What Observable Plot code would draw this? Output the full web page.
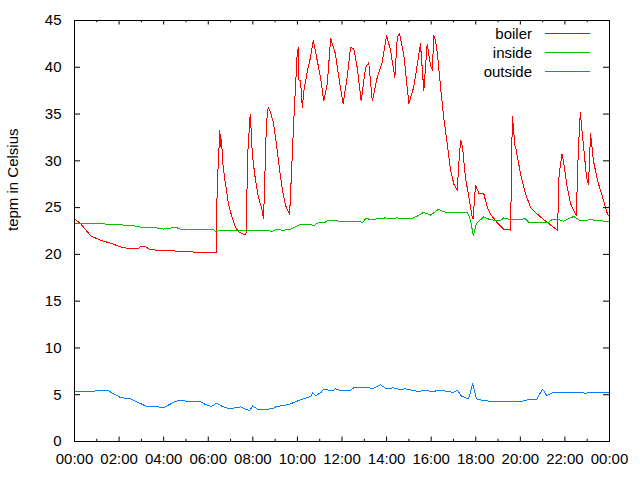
<!DOCTYPE html>
<html>
<head>
<meta charset="utf-8">
<script src="https://cdn.jsdelivr.net/npm/d3@7"></script>
<script src="https://cdn.jsdelivr.net/npm/@observablehq/plot@0.6"></script>
<style>
  html, body { margin: 0; padding: 0; background: #fff; }
</style>
</head>
<body>
<div id="chart"></div>
<script>
// ---- data (hours since 00:00, temperature in °C) ----
const boilerHours = [0, 0.27, 0.72, 1.17, 1.62, 2.06, 2.51, 2.83, 2.96, 3.19, 3.41, 4.08, 5.2, 5.43, 6.36, 6.38, 6.42, 6.52, 6.56, 6.6, 6.64, 6.73, 6.82, 6.91, 7.04, 7.22, 7.36, 7.63, 7.69, 7.72, 7.76, 7.88, 7.92, 7.94, 7.99, 8.12, 8.25, 8.39, 8.48, 8.52, 8.61, 8.69, 8.79, 8.93, 9.06, 9.2, 9.33, 9.47, 9.65, 9.74, 9.83, 9.99, 10.04, 10.07, 10.14, 10.22, 10.29, 10.44, 10.59, 10.71, 10.89, 11.04, 11.18, 11.34, 11.49, 11.71, 11.86, 12.05, 12.23, 12.38, 12.53, 12.68, 12.86, 13.06, 13.2, 13.36, 13.58, 13.8, 14.0, 14.18, 14.37, 14.48, 14.58, 14.77, 15.0, 15.22, 15.45, 15.52, 15.67, 15.82, 15.97, 16.05, 16.12, 16.19, 16.28, 16.42, 16.56, 16.72, 16.87, 17.02, 17.17, 17.23, 17.32, 17.4, 17.54, 17.69, 17.84, 17.88, 17.99, 18.14, 18.36, 18.52, 18.66, 18.96, 19.25, 19.56, 19.6, 19.64, 19.67, 19.7, 19.73, 19.81, 20.01, 20.23, 20.46, 20.9, 21.49, 21.67, 21.74, 21.87, 21.93, 22.1, 22.26, 22.39, 22.51, 22.6, 22.69, 22.75, 22.84, 22.97, 23.06, 23.15, 23.28, 23.46, 23.69, 23.91, 24.0];
const boilerTemps = [23.8, 23.3, 22.0, 21.5, 21.2, 20.8, 20.6, 20.6, 20.8, 20.8, 20.5, 20.4, 20.3, 20.2, 20.2, 25.0, 28.2, 33.2, 31.5, 32.3, 30.0, 28.2, 26.8, 25.4, 24.2, 22.9, 22.4, 22.1, 22.1, 23.8, 30.4, 35.0, 33.5, 32.2, 30.4, 27.9, 26.1, 25.0, 23.8, 26.8, 34.0, 35.7, 35.2, 34.0, 31.8, 29.0, 26.8, 25.2, 24.3, 29.0, 34.0, 41.5, 42.1, 38.6, 38.6, 35.7, 37.5, 39.5, 41.1, 42.9, 40.7, 38.9, 36.4, 38.2, 43.1, 41.4, 38.9, 36.1, 38.9, 42.1, 42.0, 40.0, 36.4, 40.0, 40.5, 36.4, 38.9, 40.5, 43.4, 41.8, 38.9, 43.2, 43.6, 41.4, 36.1, 37.9, 41.4, 42.5, 37.5, 42.5, 40.2, 39.7, 43.4, 42.9, 41.5, 37.9, 34.7, 31.8, 29.0, 27.5, 26.8, 29.3, 32.2, 31.6, 28.2, 26.1, 24.0, 23.8, 27.4, 26.5, 26.5, 25.0, 24.3, 23.4, 22.7, 22.6, 28.0, 34.7, 32.9, 34.0, 31.8, 31.2, 28.6, 26.5, 25.0, 24.0, 22.9, 22.6, 28.6, 30.7, 30.0, 27.2, 25.4, 24.7, 24.2, 31.1, 35.2, 33.6, 31.5, 28.2, 27.5, 32.9, 30.0, 27.9, 26.1, 24.3, 24.0];

const insideHours = [0, 0.94, 2.51, 2.83, 2.96, 3.86, 3.99, 4.53, 4.76, 6.19, 6.37, 6.46, 7.72, 8.7, 8.84, 9.06, 9.38, 9.51, 9.69, 10.14, 10.59, 10.72, 10.95, 11.26, 11.35, 12.83, 12.92, 13.06, 13.41, 13.95, 14.18, 14.45, 15.12, 15.43, 15.66, 15.97, 16.32, 16.64, 17.63, 17.77, 17.89, 18.03, 18.35, 18.66, 19.11, 19.25, 19.56, 20.23, 20.37, 21.27, 21.44, 21.71, 21.94, 22.39, 22.7, 23.15, 23.6, 23.87, 24.0];
const insideTemps = [23.3, 23.3, 23.1, 23.0, 22.9, 22.8, 22.7, 22.9, 22.7, 22.7, 22.4, 22.55, 22.6, 22.6, 22.4, 22.7, 22.55, 22.7, 22.7, 23.2, 23.2, 23.05, 23.4, 23.45, 23.6, 23.5, 23.4, 23.8, 23.75, 23.9, 23.8, 23.9, 23.8, 24.15, 24.5, 24.2, 24.8, 24.5, 24.5, 23.6, 22.0, 23.3, 24.0, 23.7, 23.6, 23.9, 23.7, 23.8, 23.45, 23.45, 23.75, 23.75, 23.55, 24.05, 23.6, 23.7, 23.6, 23.5, 23.5];

const outsideHours = [0, 0.49, 0.72, 1.17, 1.53, 2.06, 2.51, 3.19, 3.86, 3.99, 4.53, 4.76, 5.2, 5.65, 5.88, 6.15, 6.37, 6.64, 6.95, 7.45, 7.85, 7.99, 8.25, 8.88, 9.06, 9.6, 10.14, 10.36, 10.59, 10.68, 10.81, 11.04, 11.17, 11.62, 11.71, 11.93, 12.38, 12.52, 13.14, 13.37, 13.73, 14.0, 14.31, 14.63, 14.85, 15.43, 15.79, 15.97, 16.29, 16.55, 17.0, 17.18, 17.36, 17.68, 17.86, 18.03, 18.3, 18.8, 19.25, 20.01, 20.37, 20.73, 21.0, 21.18, 21.49, 22.7, 22.88, 23.42, 23.82, 24.0];
const outsideTemps = [5.38, 5.38, 5.3, 5.5, 5.4, 4.7, 4.55, 3.8, 3.67, 3.6, 4.3, 4.4, 4.25, 4.25, 3.95, 3.74, 4.1, 3.74, 3.5, 3.7, 3.28, 3.8, 3.4, 3.5, 3.74, 3.95, 4.45, 4.63, 4.8, 5.2, 4.9, 5.2, 5.55, 5.45, 5.63, 5.45, 5.45, 5.74, 5.8, 5.63, 6.06, 5.63, 5.74, 5.55, 5.63, 5.34, 5.5, 5.34, 5.42, 5.42, 5.24, 5.48, 4.84, 4.56, 6.17, 4.56, 4.38, 4.27, 4.3, 4.27, 4.49, 4.49, 5.6, 4.92, 5.24, 5.24, 5.17, 5.24, 5.24, 5.24];

const seriesNames = ["boiler", "inside", "outside"];
const seriesColors = ["#ff0000", "#00c000", "#0080ff"];
const majorTickHours = [0, 2, 4, 6, 8, 10, 12, 14, 16, 18, 20, 22, 24];
const minorTickHours = [1, 3, 5, 7, 9, 11, 13, 15, 17, 19, 21, 23];
const yTicks = [0, 5, 10, 15, 20, 25, 30, 35, 40, 45];
const yLabel = "tepm in Celsius";

// ---- build table ----
const day0 = Date.UTC(2013, 0, 1);
const toDate = h => new Date(day0 + h * 3600e3);
const rows = [];
[[boilerHours, boilerTemps], [insideHours, insideTemps], [outsideHours, outsideTemps]].forEach(([hs, ts], i) => {
  hs.forEach((h, j) => rows.push({series: seriesNames[i], time: toDate(h), temp: ts[j]}));
});

const W = 640, H = 480;
const mL = 74, mR = 31, mT = 20, mB = 39;
const plotW = W - mL - mR, plotH = H - mT - mB;
const xTickLen = 4.5, yTickLen = 6;

const chart = Plot.plot({
  width: W,
  height: H,
  marginLeft: mL,
  marginRight: mR,
  marginTop: mT,
  marginBottom: mB,
  style: {fontFamily: "'Liberation Sans', Arial, sans-serif", fontSize: "15px", background: "#fff", color: "#000"},
  x: {type: "utc", domain: [toDate(0), toDate(24)]},
  y: {domain: [0, 45]},
  color: {domain: seriesNames, range: seriesColors},
  marks: [
    Plot.line(rows, {x: "time", y: "temp", z: "series", stroke: "series", strokeWidth: 1, shapeRendering: "crispEdges"}),
    Plot.frame({stroke: "#000", strokeWidth: 1}),
    // inward ticks, bottom & top (major + minor)
    Plot.tickX(majorTickHours.map(toDate), {x: d => d, stroke: "#000", insetTop: plotH - xTickLen}),
    Plot.tickX(minorTickHours.map(toDate), {x: d => d, stroke: "#000", insetTop: plotH - xTickLen / 2}),
    Plot.tickX(majorTickHours.map(toDate), {x: d => d, stroke: "#000", insetBottom: plotH - xTickLen}),
    Plot.tickX(minorTickHours.map(toDate), {x: d => d, stroke: "#000", insetBottom: plotH - xTickLen / 2}),
    // inward ticks, left & right
    Plot.tickY(yTicks, {y: d => d, stroke: "#000", insetRight: plotW - yTickLen}),
    Plot.tickY(yTicks, {y: d => d, stroke: "#000", insetLeft: plotW - yTickLen}),
    Plot.axisX(majorTickHours.map(toDate), {tickSize: 0, tickPadding: 12, tickFormat: d3.utcFormat("%H:%M"), label: null, fill: "#000"}),
    Plot.axisY(yTicks, {tickSize: 0, tickPadding: 13, label: null, fill: "#000"}),
    Plot.text([yLabel], {frameAnchor: "left", dx: -61, rotate: -90, fill: "#000", fontSize: 15})
  ]
});

// legend (top-right, inside the frame)
const svg = d3.select(chart);
const legend = svg.append("g").attr("font-family", "'Liberation Sans', Arial, sans-serif").attr("font-size", 15);
seriesNames.forEach((name, i) => {
  const y = 33.5 + i * 19;
  legend.append("text").attr("x", 532).attr("y", y + 5).attr("text-anchor", "end").attr("fill", "#000").text(name);
  legend.append("line").attr("x1", 545).attr("x2", 590).attr("y1", y).attr("y2", y)
    .attr("stroke", seriesColors[i]).attr("stroke-width", 1);
});

document.getElementById("chart").appendChild(chart);
</script>
</body>
</html>
